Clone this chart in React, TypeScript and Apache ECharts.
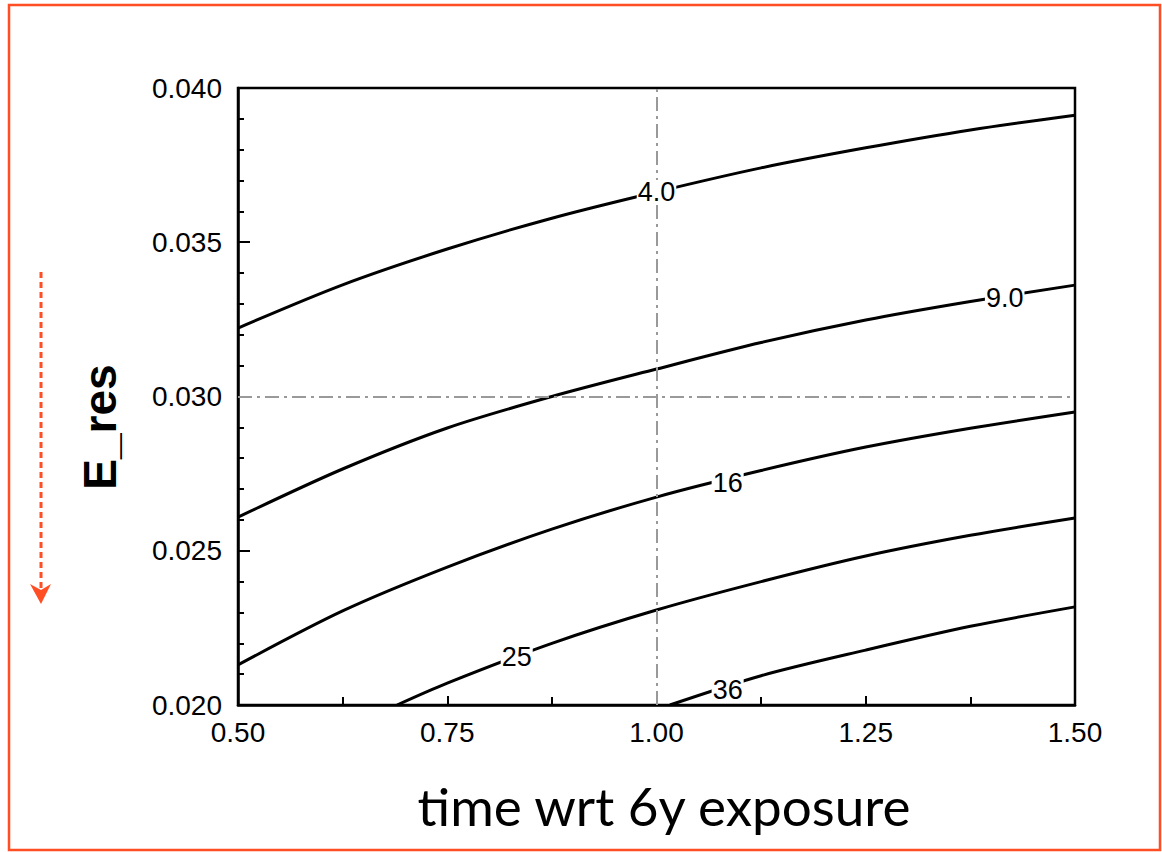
import React, { useEffect, useRef } from "react";
import * as echarts from "echarts";

// x positions (time wrt 6y exposure) used by the contours
const xFull = [0.5, 0.625, 0.75, 0.875, 1.0, 1.125, 1.25, 1.375, 1.5];
const c40 = [0.03222, 0.03362, 0.03478, 0.03578, 0.03663, 0.03741, 0.03806, 0.03864, 0.03912];
const c90 = [0.02609, 0.02765, 0.02898, 0.03, 0.03089, 0.03175, 0.03248, 0.03308, 0.03361];
const c16 = [0.0213, 0.02305, 0.02447, 0.0257, 0.02674, 0.0276, 0.02836, 0.02897, 0.0295];
const x25 = [0.69, 0.75, 0.875, 1.0, 1.125, 1.25, 1.375, 1.5];
const c25 = [0.02, 0.02071, 0.022, 0.02308, 0.024, 0.02483, 0.0255, 0.02606];
const x36 = [1.016, 1.125, 1.25, 1.375, 1.5];
const c36 = [0.02, 0.02095, 0.02178, 0.02255, 0.02318];

const labelTexts = ["4.0", "9.0", "16", "25", "36"];
const labelX = [1.0, 1.416, 1.085, 0.833, 1.085];
const labelY = [0.03663, 0.0332, 0.0272, 0.02156, 0.0205];

const xTicks = ["0.50", "0.75", "1.00", "1.25", "1.50"];
const yTicks = ["0.020", "0.025", "0.030", "0.035", "0.040"];

const refX = 1.0;
const refY = 0.03;

const zip = (xs: number[], ys: number[]) => xs.map((x, i) => [x, ys[i]]);

export default function App() {
  const ref = useRef<HTMLDivElement>(null);
  useEffect(() => {
    document.body.style.margin = "0";
    const chart = echarts.init(ref.current!, null, { renderer: "svg" });
    const lineSeries = (data: number[][]) => ({
      type: "line",
      data,
      smooth: 0.3,
      showSymbol: false,
      symbol: "none",
      lineStyle: { color: "#000", width: 3 },
      z: 3,
      silent: true,
    });
    const orange = "#FF4D24";
    chart.setOption({
      animation: false,
      grid: {
        left: 238,
        top: 88,
        right: 87,
        bottom: 147,
        show: true,
        borderColor: "#000",
        borderWidth: 2.5,
        backgroundColor: "#fff",
      },
      xAxis: {
        type: "value",
        min: 0.5,
        max: 1.5,
        interval: 0.25,
        axisLine: { show: true, onZero: false, lineStyle: { color: "#000", width: 2.5 } },
        axisTick: { show: true, inside: true, length: 9, lineStyle: { color: "#000", width: 2 } },
        minorTick: { show: true, splitNumber: 2, length: 8, lineStyle: { color: "#000", width: 2 } },
        splitLine: { show: false },
        axisLabel: {
          color: "#000",
          fontSize: 28,
          fontFamily: "Liberation Sans",
          margin: 13,
          formatter: (v: number) => xTicks[Math.round((v - 0.5) / 0.25)] ?? "",
        },
      },
      yAxis: {
        type: "value",
        min: 0.02,
        max: 0.04,
        interval: 0.005,
        axisLine: { show: true, onZero: false, lineStyle: { color: "#000", width: 2.5 } },
        axisTick: { show: true, inside: true, length: 12, lineStyle: { color: "#000", width: 2 } },
        minorTick: { show: true, splitNumber: 5, length: 6, lineStyle: { color: "#000", width: 2 } },
        splitLine: { show: false },
        axisLabel: {
          color: "#000",
          fontSize: 28,
          fontFamily: "Liberation Sans",
          margin: 16,
          formatter: (v: number) => yTicks[Math.round((v - 0.02) / 0.005)] ?? "",
        },
      },
      series: [
        {
          type: "line",
          data: [],
          silent: true,
          markLine: {
            silent: true,
            symbol: "none",
            label: { show: false },
            lineStyle: { color: "#999", width: 2, type: [14, 5, 3, 5] },
            data: [{ xAxis: refX }, { yAxis: refY }],
          },
          z: 2,
        },
        lineSeries(zip(xFull, c40)),
        lineSeries(zip(xFull, c90)),
        lineSeries(zip(xFull, c16)),
        lineSeries(zip(x25, c25)),
        lineSeries(zip(x36, c36)),
        {
          type: "scatter",
          symbolSize: 1,
          itemStyle: { color: "rgba(255,255,255,0)" },
          z: 5,
          silent: true,
          data: labelX.map((x, i) => ({ value: [x, labelY[i]], name: labelTexts[i] })),
          label: {
            show: true,
            position: "inside",
            formatter: (p: any) => p.name,
            color: "#000",
            opacity: 1,
            textBorderWidth: 0,
            textBorderColor: "transparent",
            fontSize: 27,
            fontFamily: "Liberation Sans",
            backgroundColor: "#fff",
            padding: [0, 1],
            lineHeight: 24,
          },
        },
      ],
      graphic: [
        {
          type: "rect",
          shape: { x: 9, y: 5, width: 1151, height: 845 },
          style: { fill: "none", stroke: orange, lineWidth: 2.5 },
          silent: true,
          z: 10,
        },
        {
          type: "line",
          shape: { x1: 41, y1: 272, x2: 41, y2: 590 },
          style: { stroke: orange, lineWidth: 3, lineDash: [6, 4] },
          z: 10,
        },
        {
          type: "polygon",
          shape: { points: [[30, 584], [41, 590], [51, 584], [41, 604]] },
          style: { fill: orange },
          z: 10,
        },
        {
          type: "text",
          x: 100,
          y: 427,
          rotation: Math.PI / 2,
          style: {
            text: "E_res",
            font: "bold 46px 'Liberation Sans'",
            fill: "#000",
            align: "center",
            verticalAlign: "middle",
          },
          z: 10,
        },
        {
          type: "text",
          x: 664,
          y: 805,
          style: {
            text: "time wrt 6y exposure",
            font: "53px Lato",
            fill: "#000",
            align: "center",
            verticalAlign: "middle",
          },
          z: 10,
        },
      ],
    });
    return () => chart.dispose();
  }, []);
  return <div ref={ref} style={{ width: 1162, height: 852, position: "absolute", left: 0, top: 0 }} />;
}
